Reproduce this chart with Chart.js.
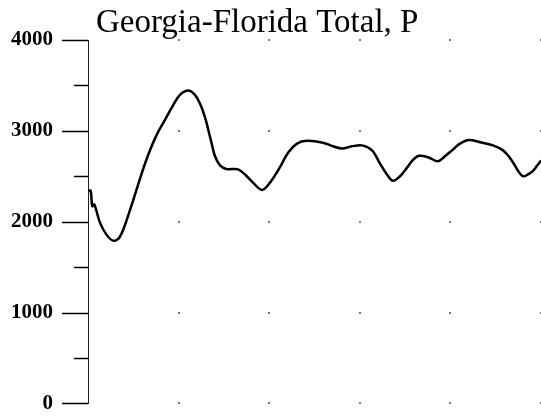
<!DOCTYPE html>
<html>
<head>
<meta charset="utf-8">
<script src="https://cdn.jsdelivr.net/npm/chart.js@4"></script>
<style>
  html, body { margin: 0; padding: 0; background: #fff; }
</style>
</head>
<body>
<canvas id="grafico" width="541" height="416"></canvas>
<script>
const titulo = "Georgia-Florida Total, P";

// posicion horizontal (unidades de la grilla) y valor de P
const xPos = [0.006, 0.030, 0.047, 0.070, 0.132, 0.206, 0.281, 0.353, 0.464,
  0.592, 0.666, 0.758, 0.850, 0.942, 1.015, 1.107, 1.181, 1.236, 1.291,
  1.328, 1.365, 1.402, 1.457, 1.531, 1.589, 1.656,
  1.733, 1.821, 1.921, 2.009, 2.119, 2.208, 2.307, 2.417, 2.594, 2.704,
  2.804, 2.914, 3.024, 3.135, 3.223, 3.300, 3.366, 3.444, 3.521, 3.587,
  3.653, 3.753, 3.863, 3.940, 4.018, 4.106, 4.205, 4.327, 4.470, 4.581,
  4.647, 4.702, 4.746, 4.801, 4.857, 4.912, 4.956, 5.000];
const valores = [2345, 2340, 2170, 2190, 1990, 1855, 1790, 1835, 2130,
  2530, 2740, 2956, 3121, 3286, 3396, 3443, 3396, 3300, 3150,
  3010, 2860, 2720, 2620, 2579, 2580, 2575,
  2520, 2430, 2350, 2430, 2600, 2760, 2860, 2890, 2870, 2830,
  2805, 2830, 2840, 2785, 2640, 2520, 2450, 2500, 2595, 2680,
  2725, 2710, 2665, 2720, 2785, 2860, 2900, 2875, 2840, 2785,
  2715, 2635, 2560, 2500, 2520, 2560, 2615, 2675];

const yTicks = [0, 1000, 2000, 3000, 4000];
const yMenores = [500, 1500, 2500, 3500];
const xGrilla = [1, 2, 3, 4, 5];

const marcas = {
  id: "marcas",
  afterDraw(chart) {
    const ctx = chart.ctx;
    const x = chart.scales.x;
    const y = chart.scales.y;
    const area = chart.chartArea;
    ctx.save();
    ctx.strokeStyle = "#000";
    ctx.lineWidth = 1.5;
    yTicks.concat(yMenores).forEach(v => {
      const py = Math.round(y.getPixelForValue(v)) + 0.5;
      const largo = v % 1000 === 0 ? 26 : 14;
      ctx.beginPath();
      ctx.moveTo(y.right - largo, py);
      ctx.lineTo(y.right, py);
      ctx.stroke();
    });
    // puntos de la grilla
    ctx.fillStyle = "#777";
    xGrilla.forEach(gx => {
      yTicks.forEach(gy => {
        ctx.fillRect(Math.round(x.getPixelForValue(gx)) - 1, Math.round(y.getPixelForValue(gy)) - 1, 2, 2);
      });
    });
    // titulo
    ctx.fillStyle = "#000";
    ctx.font = "33px 'Liberation Serif', 'Times New Roman', serif";
    ctx.textBaseline = "alphabetic";
    ctx.fillText(titulo, area.left + 8, 32);
    ctx.restore();
  }
};

new Chart(document.getElementById("grafico"), {
  type: "line",
  data: {
    datasets: [{
      data: xPos.map((px, i) => ({ x: px, y: valores[i] })),
      borderColor: "#000",
      borderWidth: 2.5,
      pointRadius: 0,
      fill: false,
      tension: 0.35
    }]
  },
  options: {
    responsive: false,
    animation: false,
    layout: { padding: { top: 40, bottom: 12, left: 0, right: 0 } },
    plugins: { legend: { display: false }, tooltip: { enabled: false } },
    scales: {
      x: { type: "linear", min: 0, max: 5, display: false },
      y: {
        min: 0,
        max: 4000,
        afterFit(scale) { scale.width = 88; },
        grid: { display: true, drawOnChartArea: false, drawTicks: true, tickLength: 35, tickColor: "rgba(0,0,0,0)" },
        border: { display: true, color: "#222", width: 1 },
        ticks: {
          stepSize: 1000,
          padding: 0,
          color: "#000",
          callback: v => String(v),
          font: { family: "'Liberation Serif', serif", size: 21, weight: "bold" }
        }
      }
    }
  },
  plugins: [marcas]
});
</script>
</body>
</html>
